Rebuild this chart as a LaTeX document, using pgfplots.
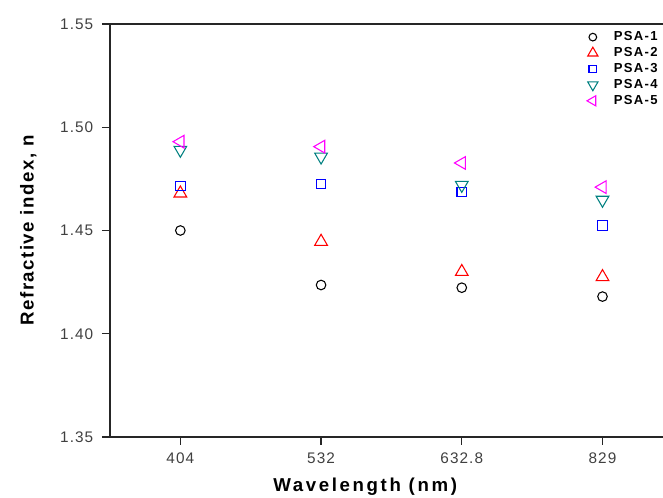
\documentclass[border=0pt]{standalone}
\usepackage{pgfplots}
\pgfplotsset{compat=1.18}
\usepackage{fontspec}
\setmainfont{Liberation Sans}
\definecolor{psateal}{RGB}{0,128,128}
\definecolor{psamag}{RGB}{255,0,255}
\begin{document}
\begin{tikzpicture}
\begin{axis}[
  name=ax,
  scale only axis,
  width=414.75pt, height=309.75pt,
  xmin=-0.5, xmax=3.43,
  ymin=1.35, ymax=1.55,
  axis y line*=left,
  axis line style={line width=0.9pt, black!85},
  xtick={0,1,2,3},
  xticklabels={404,532,632.8,829},
  ytick={1.35,1.40,1.45,1.50,1.55},
  xtick pos=bottom, ytick pos=left,
  tick align=outside,
  major tick length=6pt,
  tick style={line width=0.9pt, black!85},
  /pgf/number format/assume math mode=true,
  yticklabel style={xshift=-3pt, /pgf/number format/fixed, /pgf/number format/fixed zerofill, /pgf/number format/precision=2},
  ticklabel style={font=\addfontfeature{LetterSpace=7}\fontsize{11.5}{13}\selectfont, text=black!75},
  xticklabel style={yshift=-2.5pt},
  xlabel={\bfseries Wavelength (nm)},
  ylabel={\bfseries Refractive index, n},
  xlabel style={font=\addfontfeature{LetterSpace=14}\fontsize{14}{16}\selectfont, yshift=-4pt, xshift=-16pt},
  ylabel style={font=\addfontfeature{LetterSpace=8}\fontsize{14}{16}\selectfont, yshift=11pt},
  legend style={draw=none, fill=none, at={(0.998,0.992)}, anchor=north east,
    font=\bfseries\addfontfeature{LetterSpace=10}\fontsize{9.8}{10}\selectfont, row sep=-0.4pt, inner sep=1pt,
    column sep=10pt},
  legend image post style={/tikz/every mark/.append style={scale=0.8}},
  legend cell align=left,
  clip=false,
]
\addplot[only marks, black, mark=o, mark size=3.6pt, line width=0.8pt]
  coordinates {(0,1.450) (1,1.4236) (2,1.4223) (3,1.418)};
\addlegendentry{PSA-1}
\addplot[only marks, red, mark=triangle, mark size=5.5pt, line width=0.8pt]
  coordinates {(0,1.468) (1,1.4446) (2,1.430) (3,1.4275)};
\addlegendentry{PSA-2}
\addplot[only marks, blue, mark=square, mark size=3.6pt, line width=0.8pt]
  coordinates {(0,1.4715) (1,1.4725) (2,1.4686) (3,1.4523)};
\addlegendentry{PSA-3}
\addplot[only marks, psateal, mark=triangle, mark size=5.5pt, line width=0.8pt, mark options={rotate=180}]
  coordinates {(0,1.489) (1,1.4857) (2,1.472) (3,1.4648)};
\addlegendentry{PSA-4}
\addplot[only marks, psamag, mark=triangle, mark size=5.5pt, line width=0.8pt, mark options={rotate=90}]
  coordinates {(0,1.493) (1,1.4906) (2,1.4827) (3,1.471)};
\addlegendentry{PSA-5}
\end{axis}
\pgfresetboundingbox
\path ([xshift=-82.5pt,yshift=18pt]ax.north west) rectangle ([yshift=-45.75pt]ax.south east);
\end{tikzpicture}
\end{document}
